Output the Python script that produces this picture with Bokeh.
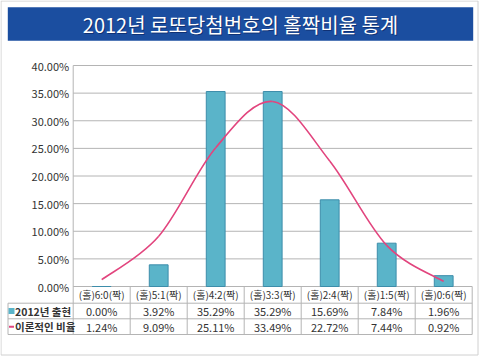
from bokeh.plotting import figure
from bokeh.models import Range1d
from bokeh.core.properties import value
from bokeh.embed import file_html
from bokeh.resources import INLINE

# ---------------- data ----------------
title_text = "2012년 로또당첨번호의 홀짝비율 통계"
categories = ["(홀)6:0(짝)", "(홀)5:1(짝)", "(홀)4:2(짝)", "(홀)3:3(짝)",
              "(홀)2:4(짝)", "(홀)1:5(짝)", "(홀)0:6(짝)"]
series_names = ["2012년 출현", "이론적인 비율"]
actual = [0.00, 3.92, 35.29, 35.29, 15.69, 7.84, 1.96]
theory = [1.24, 9.09, 25.11, 33.49, 22.72, 7.44, 0.92]
y_ticks = [0, 5, 10, 15, 20, 25, 30, 35, 40]
y_tick_labels = ["%.2f%%" % t for t in y_ticks]

# ---------------- style / geometry ----------------
FONT = "Noto Sans CJK KR"
W, H = 480, 356
UNIT = 57.0            # px per category column
LEFT = 72.7            # px from figure left to the value axis
Y40 = 65.0             # px from top to the 40% line
PXPCT = 221.0 / 40.0   # px per percent
BLUE = "#1B4EA0"
BAR = "#5AB4C9"
BAR_LINE = "#3D8DAA"
PINK = "#E2457E"
GRID = "#B4B4B4"
FRAME = "#D0D0D0"
TXT = "#333333"


def fx(px):   # horizontal pixel offset -> data x
    return (px - LEFT) / UNIT


def fy(py):   # vertical pixel offset -> data y (percent)
    return 40 - (py - Y40) / PXPCT


n = len(categories)
xc = [i + 0.5 for i in range(n)]
x_lo, x_hi = fx(0), fx(W)
y_lo, y_hi = fy(H), fy(0)

p = figure(width=W, height=H, x_range=Range1d(x_lo, x_hi), y_range=Range1d(y_lo, y_hi),
           toolbar_location=None, output_backend="svg",
           x_axis_location=None, y_axis_location=None, min_border=0)
p.outline_line_color = None
p.xgrid.visible = False
p.ygrid.visible = False
p.background_fill_color = "white"
p.border_fill_color = "white"

# outer frame
p.quad(left=[fx(0.5)], right=[fx(477.5)], bottom=[fy(354.5)], top=[fy(0.5)],
       fill_color=None, line_color=FRAME, line_width=1)

# ---------------- title bar ----------------
title_bottom = fy(40.3)
title_top = fy(6.7)
p.quad(left=[fx(7.3)], right=[fx(472.7)], bottom=[title_bottom], top=[title_top],
       fill_color=BLUE, line_color=None)
ty = (title_bottom + title_top) / 2
tx = (fx(7.3) + fx(472.7)) / 2
p.text(x=[tx], y=[ty], text=[title_text], text_color="#0B2560",
       text_alpha=0.7, x_offset=1, y_offset=1,
       text_font=value(FONT), text_font_size="20px",
       text_align="center", text_baseline="middle")
p.text(x=[tx], y=[ty], text=[title_text], text_color="white",
       text_font=value(FONT), text_font_size="20px",
       text_align="center", text_baseline="middle")

# ---------------- grid + value axis ----------------
p.segment(x0=[0] * len(y_ticks), y0=y_ticks, x1=[n] * len(y_ticks), y1=y_ticks,
          line_color=GRID, line_width=1)
p.text(x=[fx(LEFT - 4)] * len(y_ticks), y=y_ticks, text=y_tick_labels, text_color=TXT,
       text_font=value(FONT), text_font_size="11px",
       text_align="right", text_baseline="middle")

# ---------------- bars ----------------
p.vbar(x=xc, top=actual, bottom=0, width=0.33, fill_color=BAR,
       line_color=BAR_LINE, line_width=1)

# ---------------- smoothed theoretical line ----------------
px_, py_ = xc, theory
x0s, y0s, x1s, y1s, cx0s, cy0s, cx1s, cy1s = [], [], [], [], [], [], [], []
for i in range(n - 1):
    im1 = max(i - 1, 0)
    ip2 = min(i + 2, n - 1)
    x0s.append(px_[i]); y0s.append(py_[i])
    x1s.append(px_[i + 1]); y1s.append(py_[i + 1])
    cx0s.append(px_[i] + (px_[i + 1] - px_[im1]) / 6.0)
    cy0s.append(py_[i] + (py_[i + 1] - py_[im1]) / 6.0)
    cx1s.append(px_[i + 1] - (px_[ip2] - px_[i]) / 6.0)
    cy1s.append(py_[i + 1] - (py_[ip2] - py_[i]) / 6.0)
p.bezier(x0=x0s, y0=y0s, x1=x1s, y1=y1s, cx0=cx0s, cy0=cy0s, cx1=cx1s, cy1=cy1s,
         line_color=PINK, line_width=1.6)

# ---------------- data table ----------------
hdr_bot = fy(302.7)
r1_bot = fy(318.3)
r2_bot = fy(334.0)
tbl_left = fx(7.5)

# horizontal rules (0% line is the header top, drawn by the grid)
p.segment(x0=[tbl_left] * 3, y0=[hdr_bot, r1_bot, r2_bot], x1=[n] * 3,
          y1=[hdr_bot, r1_bot, r2_bot], line_color=GRID, line_width=1)
# value axis line / header left border
p.segment(x0=[0], y0=[40], x1=[0], y1=[r2_bot], line_color=GRID, line_width=1)
# column separators
cols = list(range(1, n + 1))
p.segment(x0=cols, y0=[0] * n, x1=cols, y1=[r2_bot] * n, line_color=GRID, line_width=1)
# left border of the legend column
p.segment(x0=[tbl_left], y0=[hdr_bot], x1=[tbl_left], y1=[r2_bot],
          line_color=GRID, line_width=1)

# header labels
p.text(x=xc, y=[(0 + hdr_bot) / 2] * n, text=categories, text_color=TXT,
       text_font=value(FONT), text_font_size="10px",
       text_align="center", text_baseline="middle")

r1_mid = (hdr_bot + r1_bot) / 2
r2_mid = (r1_bot + r2_bot) / 2

# legend keys
p.scatter(x=[fx(11)], y=[r1_mid], marker="square", size=6,
          fill_color=BAR, line_color=None)
p.segment(x0=[fx(8.5)], y0=[r2_mid], x1=[fx(13.5)], y1=[r2_mid],
          line_color=PINK, line_width=2)
p.text(x=[fx(14.5)] * 2, y=[r1_mid, r2_mid], text=series_names, text_color=TXT,
       text_font=value(FONT), text_font_size="10.5px", text_font_style="bold",
       text_align="left", text_baseline="middle")

# values
p.text(x=xc, y=[r1_mid] * n, text=["%.2f%%" % v for v in actual], text_color=TXT,
       text_font=value(FONT), text_font_size="11px",
       text_align="center", text_baseline="middle")
p.text(x=xc, y=[r2_mid] * n, text=["%.2f%%" % v for v in theory], text_color=TXT,
       text_font=value(FONT), text_font_size="11px",
       text_align="center", text_baseline="middle")

open("out.html", "w").write(file_html(p, INLINE))
